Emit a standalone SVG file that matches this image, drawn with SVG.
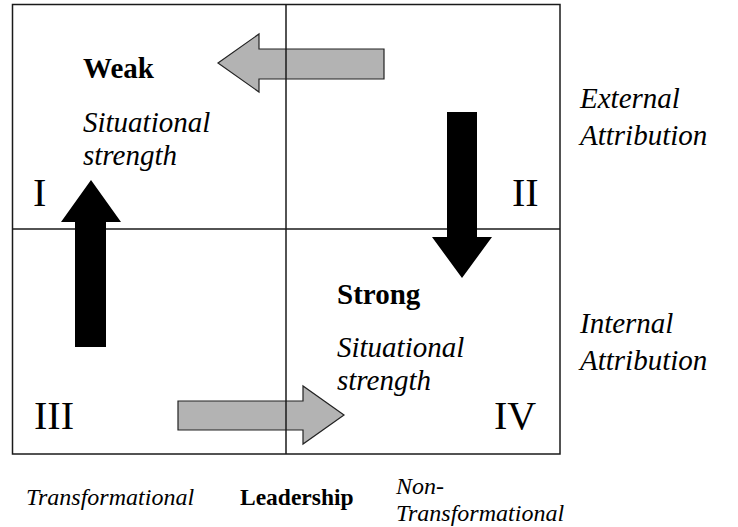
<svg xmlns="http://www.w3.org/2000/svg" width="738" height="527" viewBox="0 0 738 527">
<style>
text{font-family:'Liberation Serif','Times New Roman',serif;fill:#000}
.b{font-weight:bold;font-size:29px}
.i{font-style:italic;font-size:29px}
.n{font-size:40px}
.s{font-size:24px}
.ls{font-size:23.5px}
.grid{fill:none;stroke:#1a1a1a;stroke-width:1.5}
.gray{fill:#b3b3b3;stroke:#222;stroke-width:1.2}
.blk{fill:#000;stroke:none}
</style>
<rect width="738" height="527" fill="#fff"/>
<g id="connectors">
<polygon class="gray" points="218,63 259,34 259,49 384,49 384,79 259,79 259,92"/>
<polygon class="gray" points="178,401 303,401 303,386 344,415 303,444 303,430 178,430"/>
</g>
<g id="grid">
<rect class="grid" x="12.5" y="4.5" width="547.5" height="449.5"/>
<line class="grid" x1="286" y1="4.5" x2="286" y2="454"/>
<line class="grid" x1="12.5" y1="229" x2="560" y2="229"/>
</g>
<g id="connectors-black">
<polygon class="blk" points="447,112 477,112 477,237 492,237 462,278 432,237 447,237"/>
<polygon class="blk" points="75,347 106,347 106,222 121,222 91,180 61,222 75,222"/>
</g>
<g id="q1">
<text class="b" x="83" y="78">Weak</text>
<text class="i" x="83" y="132">Situational</text>
<text class="i" x="83" y="165">strength</text>
<text class="n" x="33" y="206">I</text>
</g>
<g id="q2">
<text class="n" x="512" y="206">II</text>
</g>
<g id="q3">
<text class="n" x="34" y="429">III</text>
</g>
<g id="q4">
<text class="b" x="337" y="304">Strong</text>
<text class="i" x="337" y="357">Situational</text>
<text class="i" x="337" y="390">strength</text>
<text class="n" x="494" y="429">IV</text>
</g>
<g id="external">
<text class="i" x="580" y="108">External</text>
<text class="i" x="580" y="145">Attribution</text>
</g>
<g id="internal">
<text class="i" x="580" y="333">Internal</text>
<text class="i" x="580" y="370">Attribution</text>
</g>
<g id="axis">
<text class="i s" x="26" y="505">Transformational</text>
<text class="b ls" x="240" y="505">Leadership</text>
<text class="i s" x="396" y="494">Non-</text>
<text class="i s" x="396" y="521">Transformational</text>
</g>
</svg>
